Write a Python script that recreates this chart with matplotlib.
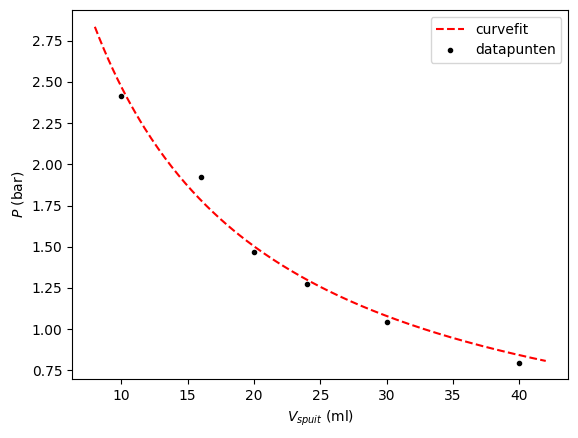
import numpy as np
import matplotlib
matplotlib.use("Agg")
import matplotlib.pyplot as plt

# data points
V_data = [10, 16, 20, 24, 30, 40]
P_data = [2.414, 1.922, 1.467, 1.274, 1.045, 0.798]

# fitted model P = a / (V + b)
fit_a = 38.4
fit_b = 5.55
V_min, V_max = 8, 42

fig = plt.figure(figsize=(5.78, 4.38), dpi=100)
ax = fig.add_axes([72.3 / 578, (438 - 379.3) / 438, (568.3 - 72.3) / 578, (379.3 - 10) / 438])

V_fit = np.linspace(V_min, V_max, 200)
P_fit = fit_a / (V_fit + fit_b)
ax.plot(V_fit, P_fit, 'r--', label='curvefit')
ax.plot(V_data, P_data, 'k.', label='datapunten')

ax.set_xlabel(r'$V_{spuit}$ (ml)')
ax.set_ylabel(r'$P$ (bar)')
ax.legend()

fig.savefig('out.png', dpi=100)
